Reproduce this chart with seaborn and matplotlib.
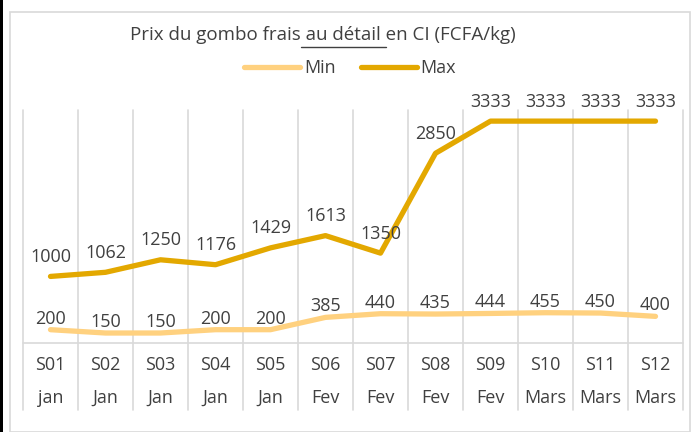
import pandas as pd
import matplotlib.pyplot as plt
import seaborn as sns
from matplotlib.lines import Line2D
from matplotlib.patches import Rectangle

semaines = ['S01', 'S02', 'S03', 'S04', 'S05', 'S06', 'S07', 'S08', 'S09', 'S10', 'S11', 'S12']
mois = ['jan', 'Jan', 'Jan', 'Jan', 'Jan', 'Fev', 'Fev', 'Fev', 'Fev', 'Mars', 'Mars', 'Mars']
prix_min = [200, 150, 150, 200, 200, 385, 440, 435, 444, 455, 450, 400]
prix_max = [1000, 1062, 1250, 1176, 1429, 1613, 1350, 2850, 3333, 3333, 3333, 3333]

sns.set_style('white')
plt.rcParams['font.family'] = ['Open Sans', 'DejaVu Sans']

gris_txt = '#404040'
gris_grille = '#D9D9D9'
couleurs = {'Min': '#FFD17F', 'Max': '#E3A800'}

df = pd.DataFrame({'pos': range(len(semaines)), 'Min': prix_min, 'Max': prix_max})
df_long = df.melt(id_vars='pos', var_name='serie', value_name='prix')

fig = plt.figure(figsize=(6.96, 4.32), dpi=100)
W, H = 696, 432

# cadre du graphique
fig.patches.append(Rectangle((10 / W, 0), 680 / W, 1 - 12 / H, transform=fig.transFigure,
                             fill=False, edgecolor=gris_grille, lw=1.2))
fig.patches.append(Rectangle((0, 0), 3 / W, 1, transform=fig.transFigure,
                             facecolor='black', edgecolor='none'))

ax = fig.add_axes([23 / W, 1 - 343 / H, 660 / W, 233 / H])
sns.lineplot(data=df_long, x='pos', y='prix', hue='serie', palette=couleurs,
             linewidth=3.8, ax=ax, legend=False, solid_capstyle='round')
ax.set_xlim(-0.5, len(semaines) - 0.5)
ax.set_ylim(0, 3500)
for s in ax.spines.values():
    s.set_visible(False)
ax.set_xticks([])
ax.set_yticks([])
ax.set_xlabel('')
ax.set_ylabel('')

# grille verticale et axe des categories
trans = ax.get_xaxis_transform()
bas = (343 - 410) / 233
for i in range(len(semaines) + 1):
    ax.plot([i - 0.5, i - 0.5], [bas, 1], transform=trans, color=gris_grille,
            lw=1.2, clip_on=False, zorder=0)
ax.plot([-0.5, len(semaines) - 0.5], [0, 0], transform=trans, color=gris_grille,
        lw=1.2, clip_on=False, zorder=0)
for i, (s, m) in enumerate(zip(semaines, mois)):
    ax.text(i, (343 - 365) / 233, s, transform=trans, ha='center', va='center',
            fontsize=13, color=gris_txt)
    ax.text(i, (343 - 398) / 233, m, transform=trans, ha='center', va='center',
            fontsize=13, color=gris_txt)

# etiquettes de donnees
for i, v in enumerate(prix_max):
    ax.annotate(str(v), (i, v), xytext=(0, 14), textcoords='offset points',
                ha='center', va='center', fontsize=13, color=gris_txt)
for i, v in enumerate(prix_min):
    ax.annotate(str(v), (i, v), xytext=(0, 8), textcoords='offset points',
                ha='center', va='center', fontsize=13, color=gris_txt)

# titre avec "au détail " souligne
x0, yt = 130 / W, 1 - 35 / H
titre = 'Prix du gombo frais au détail en CI (FCFA/kg)'
fig.text(x0, yt, titre, ha='left', va='center', fontsize=13.5, color=gris_txt)
r = fig.canvas.get_renderer()
def largeur(txt):
    t = fig.text(0, 0, txt, fontsize=13.5)
    w = t.get_window_extent(r).width
    t.remove()
    return w / W
xa = x0 + largeur('Prix du gombo frais')
xb = x0 + largeur('Prix du gombo frais au détail ')
fig.add_artist(Line2D([xa, xb], [yt - 12 / H, yt - 12 / H], color=gris_txt, lw=1,
                      transform=fig.transFigure))

poignees = [Line2D([], [], color=couleurs[k], lw=3.8, solid_capstyle='round') for k in ['Min', 'Max']]
fig.legend(poignees, ['Min', 'Max'], loc='center', bbox_to_anchor=(350 / W, 1 - 68 / H),
           ncol=2, frameon=False, fontsize=13, handlelength=3.1, handletextpad=0.2,
           columnspacing=1.4, labelcolor=gris_txt)

fig.savefig('out.png', dpi=100)
